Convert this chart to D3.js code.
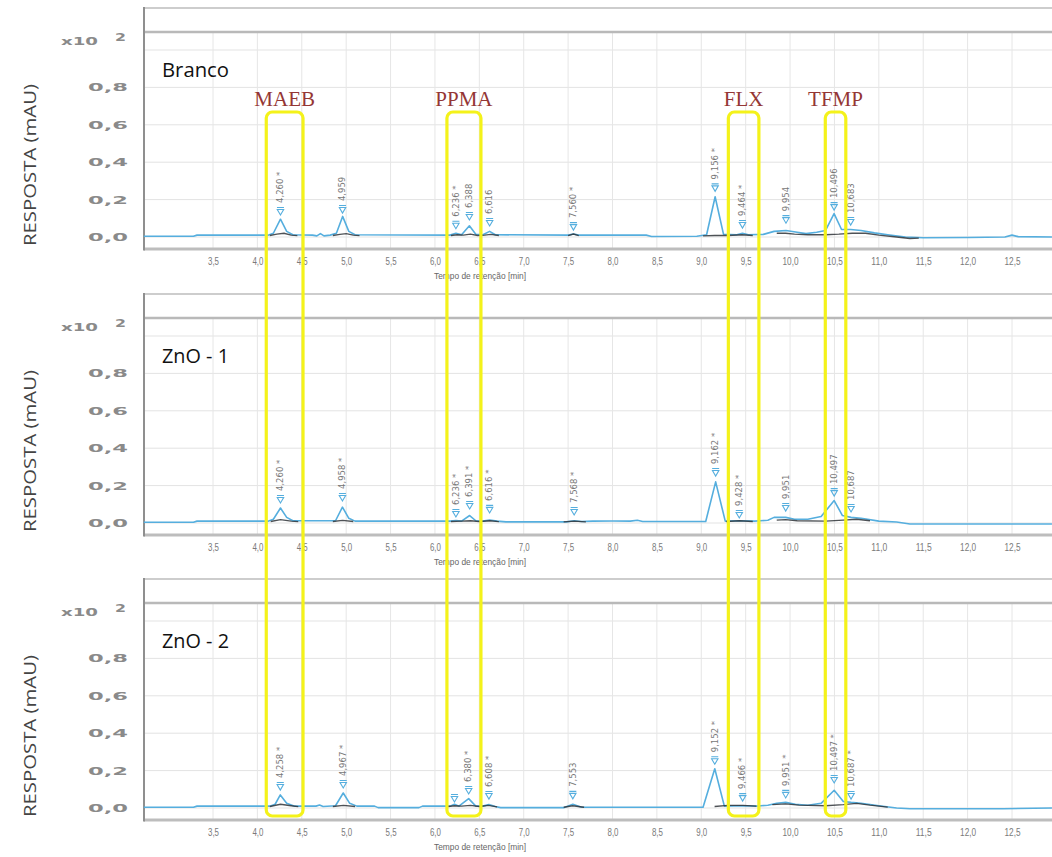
<!DOCTYPE html>
<html><head><meta charset="utf-8">
<script src="https://cdn.jsdelivr.net/npm/d3@7/dist/d3.min.js"></script>
<style>body{margin:0;background:#fff}svg{display:block}</style>
</head><body>
<svg id="c" width="1052" height="857"></svg>
<script>
// ---------------- data ----------------
const panelNames = ["Branco", "ZnO - 1", "ZnO - 2"];
const xTickValues = [3.5,4,4.5,5,5.5,6,6.5,7,7.5,8,8.5,9,9.5,10,10.5,11,11.5,12,12.5];
const xTickLabels = ["3,5","4,0","4,5","5,0","5,5","6,0","6,5","7,0","7,5","8,0","8,5","9,0","9,5","10,0","10,5","11,0","11,5","12,0","12,5"];
const yTickValues = [0, 0.2, 0.4, 0.6, 0.8];
const yTickLabels = ["0,0","0,2","0,4","0,6","0,8"];
const yGridValues = [0, 0.2, 0.4, 0.6, 0.8, 1.0];
const xAxisTitle = "Tempo de retenção [min]";
const yAxisTitle = "RESPOSTA (mAU)";
const scaleNote = "x10";
const scaleExp = "2";

const compoundNames = ["MAEB", "PPMA", "FLX", "TFMP"];
const compoundFrom = [4.10, 6.135, 9.305, 10.397];
const compoundTo   = [4.514, 6.518, 9.649, 10.628];

// blue chromatogram traces (time [min], response x10^2 mAU)
const signalBranco = [[2.72,0.004],[3.28,0.004],[3.32,0.01],[4.12,0.01],[4.18,0.02],[4.26,0.095],[4.33,0.03],[4.40,0.012],[4.62,0.01],[4.67,0.006],[4.71,0.018],[4.75,0.006],[4.82,0.01],[4.89,0.02],[4.96,0.11],[5.03,0.03],[5.10,0.012],[6.17,0.01],[6.236,0.02],[6.30,0.012],[6.388,0.06],[6.46,0.015],[6.54,0.012],[6.616,0.03],[6.68,0.012],[7.50,0.01],[7.56,0.016],[7.62,0.01],[8.38,0.01],[8.44,0.003],[8.95,0.004],[9.06,0.012],[9.156,0.215],[9.25,0.015],[9.40,0.012],[9.464,0.02],[9.53,0.012],[9.70,0.014],[9.82,0.03],[9.954,0.035],[10.08,0.025],[10.18,0.018],[10.30,0.025],[10.40,0.035],[10.496,0.125],[10.58,0.04],[10.683,0.04],[10.80,0.035],[10.95,0.022],[11.10,0.012],[11.30,0.0],[11.50,-0.004],[12.00,-0.003],[12.42,0.0],[12.50,0.01],[12.57,0.002],[12.95,0.0]];
const signalZnO1 = [[2.72,0.004],[3.28,0.004],[3.32,0.01],[4.12,0.01],[4.18,0.02],[4.26,0.08],[4.33,0.03],[4.40,0.012],[4.88,0.012],[4.958,0.085],[5.03,0.025],[5.10,0.01],[6.17,0.01],[6.236,0.013],[6.30,0.01],[6.391,0.04],[6.46,0.012],[6.54,0.01],[6.616,0.016],[6.70,0.01],[6.80,0.006],[7.48,0.006],[7.568,0.012],[7.65,0.008],[7.78,0.01],[8.00,0.011],[8.20,0.01],[8.28,0.015],[8.34,0.008],[9.05,0.008],[9.162,0.22],[9.27,0.01],[9.428,0.012],[9.60,0.01],[9.75,0.015],[9.82,0.03],[9.951,0.03],[10.05,0.02],[10.20,0.02],[10.35,0.035],[10.497,0.12],[10.59,0.04],[10.687,0.03],[10.80,0.025],[11.00,0.01],[11.20,0.005],[11.35,-0.005],[12.95,-0.005]];
const signalZnO2 = [[2.72,0.004],[3.28,0.004],[3.32,0.01],[4.14,0.01],[4.20,0.02],[4.258,0.07],[4.33,0.025],[4.42,0.01],[4.66,0.01],[4.70,0.016],[4.74,0.008],[4.88,0.012],[4.967,0.08],[5.04,0.025],[5.12,0.01],[5.32,0.01],[5.36,0.002],[5.82,0.002],[5.86,0.01],[6.17,0.01],[6.22,0.02],[6.27,0.01],[6.380,0.05],[6.46,0.01],[6.54,0.01],[6.608,0.018],[6.68,0.008],[6.74,0.002],[7.45,0.002],[7.553,0.02],[7.65,0.004],[9.02,0.004],[9.152,0.21],[9.26,0.01],[9.466,0.012],[9.62,0.01],[9.75,0.015],[9.85,0.025],[9.951,0.03],[10.06,0.02],[10.20,0.015],[10.35,0.025],[10.497,0.095],[10.60,0.035],[10.687,0.03],[10.80,0.025],[11.00,0.012],[11.20,0.0],[11.35,-0.004],[12.40,-0.004],[12.95,0.0]];

// dark (integration baseline) trace pieces
const darkBranco = [
  [[4.14,0.008],[4.22,0.015],[4.30,0.02],[4.38,0.01],[4.45,0.007]],
  [[4.85,0.008],[4.93,0.014],[5.00,0.018],[5.08,0.01],[5.15,0.007]],
  [[6.18,0.008],[6.25,0.012],[6.32,0.01],[6.40,0.015],[6.48,0.008],[6.56,0.01],[6.63,0.014],[6.72,0.008]],
  [[7.50,0.008],[7.56,0.016],[7.62,0.008]],
  [[9.02,0.006],[9.15,0.008],[9.30,0.008],[9.46,0.012],[9.58,0.008]],
  [[9.85,0.02],[9.95,0.02],[10.05,0.015],[10.20,0.012],[10.40,0.012],[10.55,0.015],[10.70,0.02],[10.85,0.02],[11.00,0.01],[11.20,0.0],[11.35,-0.008],[11.45,-0.006]]
];
const darkZnO1 = [
  [[4.15,0.008],[4.26,0.018],[4.38,0.01],[4.46,0.007]],
  [[4.85,0.008],[4.96,0.014],[5.08,0.008]],
  [[6.18,0.008],[6.30,0.01],[6.40,0.012],[6.50,0.008],[6.62,0.012],[6.72,0.007]],
  [[7.45,0.006],[7.57,0.01],[7.70,0.006]],
  [[9.28,0.008],[9.43,0.012],[9.58,0.008]],
  [[9.85,0.015],[9.95,0.018],[10.08,0.012],[10.40,0.01],[10.60,0.015],[10.75,0.02],[10.90,0.012]]
];
const darkZnO2 = [
  [[4.14,0.008],[4.26,0.02],[4.38,0.012],[4.46,0.007]],
  [[4.85,0.008],[4.97,0.014],[5.10,0.008]],
  [[6.15,0.008],[6.22,0.012],[6.30,0.01],[6.40,0.014],[6.50,0.008],[6.60,0.014],[6.70,0.006]],
  [[7.45,0.004],[7.55,0.012],[7.68,0.004]],
  [[9.15,0.008],[9.30,0.014],[9.47,0.014],[9.62,0.01]],
  [[9.80,0.018],[9.95,0.022],[10.10,0.015],[10.40,0.012],[10.60,0.018],[10.75,0.025],[10.90,0.015],[11.10,0.005]]
];

// peak markers: retention time, marker level, label
const peakTimesBranco = [4.260,4.959,6.236,6.388,6.616,7.560,9.156,9.464,9.954,10.496,10.683];
const peakMarkBranco  = [0.134,0.144,0.060,0.107,0.075,0.053,0.260,0.064,0.090,0.160,0.080];
const peakTextBranco  = ["4,260 *","4,959","6,236 *","6,388","6,616","7,560 *","9,156 *","9,464 *","9,954","10,496","10,683"];
const peakTimesZnO1 = [4.260,4.958,6.236,6.391,6.616,7.568,9.162,9.428,9.951,10.497,10.687];
const peakMarkZnO1  = [0.123,0.134,0.048,0.091,0.070,0.059,0.267,0.043,0.080,0.160,0.075];
const peakTextZnO1  = ["4,260 *","4,958 *","6,236 *","6,391 *","6,616 *","7,568 *","9,162 *","9,428 *","9,951","10,497","10,687"];
const peakTimesZnO2 = [4.258,4.967,6.220,6.380,6.608,7.553,9.152,9.466,9.951,10.497,10.687];
const peakMarkZnO2  = [0.112,0.123,0.048,0.091,0.064,0.065,0.250,0.053,0.070,0.150,0.064];
const peakTextZnO2  = ["4,258 *","4,967 *","","6,380 *","6,608 *","7,553","9,152 *","9,466 *","9,951 *","10,497 *","10,687 *"];

const signals = [signalBranco, signalZnO1, signalZnO2];
const darks = [darkBranco, darkZnO1, darkZnO2];
const peakTimes = [peakTimesBranco, peakTimesZnO1, peakTimesZnO2];
const peakMarks = [peakMarkBranco, peakMarkZnO1, peakMarkZnO2];
const peakTexts = [peakTextBranco, peakTextZnO1, peakTextZnO2];

// ---------------- drawing ----------------
const svg = d3.select("#c");
svg.append("rect").attr("width",1052).attr("height",857).attr("fill","#fff");
const x = d3.scaleLinear().domain([3.5, 12.5]).range([213, 1012]);
const plotL = 144, plotR = 1052;
const offsets = [0, 286, 571];
const blue = "#55aede";

offsets.forEach((o, i) => {
  const y = d3.scaleLinear().domain([0, 1]).range([237 + o, 50 + o]);
  const g = svg.append("g");

  // grid
  g.append("g").selectAll("line").data(yGridValues).join("line")
    .attr("x1", plotL).attr("x2", plotR)
    .attr("y1", d => y(d)).attr("y2", d => y(d))
    .attr("stroke", "#e3e3e3").attr("stroke-width", 1);
  g.append("g").selectAll("line").data(xTickValues).join("line")
    .attr("x1", d => x(d)).attr("x2", d => x(d))
    .attr("y1", 33 + o).attr("y2", 248 + o)
    .attr("stroke", "#e6e6e6").attr("stroke-width", 1);

  // frame
  g.append("line").attr("x1", plotL).attr("x2", plotR).attr("y1", 8 + o).attr("y2", 8 + o)
    .attr("stroke", "#cdcdcd").attr("stroke-width", 2);
  g.append("line").attr("x1", plotL).attr("x2", plotR).attr("y1", 32 + o).attr("y2", 32 + o)
    .attr("stroke", "#b9b9b9").attr("stroke-width", 2.5);
  g.append("line").attr("x1", plotL).attr("x2", plotR).attr("y1", 249 + o).attr("y2", 249 + o)
    .attr("stroke", "#bdbdbd").attr("stroke-width", 3);
  g.append("line").attr("x1", plotL).attr("x2", plotL).attr("y1", 7 + o).attr("y2", 250.5 + o)
    .attr("stroke", "#8f8f8f").attr("stroke-width", 2);

  // x axis
  const xa = g.append("g").attr("transform", `translate(0,${250 + o})`)
    .call(d3.axisBottom(x).tickValues(xTickValues).tickFormat((d, k) => xTickLabels[k]).tickSize(0).tickPadding(7));
  xa.select(".domain").remove();
  xa.selectAll("text").attr("font-family", "Liberation Sans, Arial, sans-serif").attr("font-size", 11)
    .attr("fill", "#7a7a7a").attr("textLength", function(d,k){ return xTickLabels[k].length > 3 ? 16 : 11; })
    .attr("lengthAdjust", "spacingAndGlyphs");
  g.append("text").attr("x", 480).attr("y", 279 + o).attr("text-anchor", "middle")
    .attr("font-family", "Liberation Sans, Arial, sans-serif").attr("font-size", 9)
    .attr("fill", "#666").attr("textLength", 92).attr("lengthAdjust", "spacingAndGlyphs").text(xAxisTitle);

  // y axis
  const ya = g.append("g").attr("transform", `translate(${plotL},0)`)
    .call(d3.axisLeft(y).tickValues(yTickValues).tickFormat((d, k) => yTickLabels[k]).tickSize(0).tickPadding(16));
  ya.select(".domain").remove();
  ya.selectAll("text").attr("font-family", "DejaVu Sans, sans-serif").attr("font-weight", "bold")
    .attr("font-size", 11).attr("fill", "#8a8a8a").attr("textLength", 40).attr("lengthAdjust", "spacingAndGlyphs");
  g.append("text").attr("x", 61).attr("y", 45 + o).attr("font-family", "DejaVu Sans, sans-serif").attr("font-weight", "bold")
    .attr("font-size", 11).attr("fill", "#8a8a8a").attr("textLength", 37).attr("lengthAdjust", "spacingAndGlyphs").text(scaleNote);
  g.append("text").attr("x", 115).attr("y", 41 + o).attr("font-family", "DejaVu Sans, sans-serif").attr("font-weight", "bold")
    .attr("font-size", 10).attr("fill", "#8a8a8a").attr("textLength", 11).attr("lengthAdjust", "spacingAndGlyphs").text(scaleExp);

  g.append("text").attr("transform", `translate(36,${165 + o}) rotate(-90)`).attr("text-anchor", "middle")
    .attr("font-family", "Open Sans, Liberation Sans, sans-serif").attr("font-size", 16.5).attr("fill", "#444")
    .attr("textLength", 162).attr("lengthAdjust", "spacingAndGlyphs").text(yAxisTitle);

  // panel name
  g.append("text").attr("x", 162).attr("y", 77 + o)
    .attr("font-family", "Open Sans, Liberation Sans, sans-serif").attr("font-size", 20).attr("fill", "#111")
    .attr("textLength", 67).attr("lengthAdjust", "spacingAndGlyphs").text(panelNames[i]);

  // traces
  const line = d3.line().x(d => x(d[0])).y(d => y(d[1]));
  g.append("path").datum(signals[i]).attr("d", line).attr("fill", "none")
    .attr("stroke", blue).attr("stroke-width", 1.6).attr("stroke-linejoin", "round");
  g.append("g").selectAll("path").data(darks[i]).join("path").attr("d", line).attr("fill", "none")
    .attr("stroke", "#2f3438").attr("stroke-width", 1.3).attr("stroke-opacity", 0.85);

  // peak markers + labels
  const pk = g.append("g").selectAll("g").data(peakTimes[i].map((t, k) => ({t, m: peakMarks[i][k], s: peakTexts[i][k]})))
    .join("g").attr("transform", d => `translate(${x(d.t)},${y(d.m)})`);
  pk.append("path").attr("d", "M-3.5,-4.5H3.5M-3.2,-2.5H3.2L0,3Z").attr("fill", "none")
    .attr("stroke", blue).attr("stroke-width", 1.1);
  pk.append("text").attr("transform", "translate(0,-9) rotate(-90)").attr("dy", "0.33em")
    .attr("font-family", "DejaVu Sans, sans-serif").attr("font-size", 8.5).attr("fill", "#777")
    .text(d => d.s);
});

// compound highlight boxes
const cg = svg.append("g");
compoundNames.forEach((name, k) => {
  const x0 = x(compoundFrom[k]), x1 = x(compoundTo[k]);
  cg.append("rect").attr("x", x0).attr("y", 112).attr("width", x1 - x0).attr("height", 704)
    .attr("rx", 6).attr("ry", 6).attr("fill", "none").attr("stroke", "#f4f21a").attr("stroke-width", 3.2);
  cg.append("text").attr("x", (x0 + x1) / 2).attr("y", 106).attr("text-anchor", "middle")
    .attr("font-family", "Liberation Serif, Times New Roman, serif").attr("font-size", 21)
    .attr("fill", "#943634").text(name);
});
</script>
</body></html>
